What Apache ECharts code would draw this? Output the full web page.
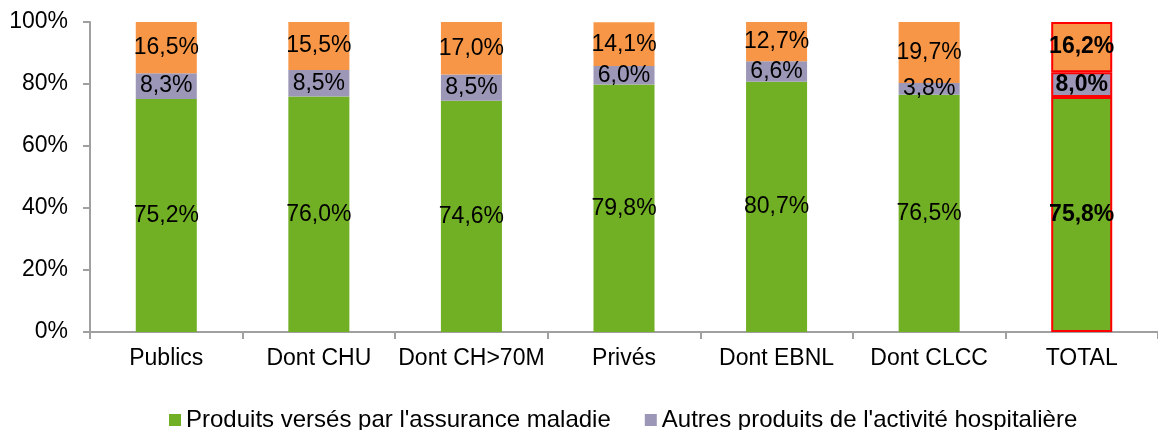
<!DOCTYPE html>
<html>
<head>
<meta charset="utf-8">
<title>Produits</title>
<script src="https://cdn.jsdelivr.net/npm/echarts@6/dist/echarts.min.js"></script>
<style>
    html, body { margin: 0; padding: 0; background: #fff; }
    #chart { width: 1158px; height: 430px; }
</style>
</head>
<body>
<div id="chart"></div>
<script>
    var categories = ['Publics', 'Dont CHU', 'Dont CH>70M', 'Privés', 'Dont EBNL', 'Dont CLCC', 'TOTAL'];
    var assurance = [75.2, 76.0, 74.6, 79.8, 80.7, 76.5, 75.8];
    var autres = [8.3, 8.5, 8.5, 6.0, 6.6, 3.8, 8.0];
    var annexes = [16.5, 15.5, 17.0, 14.1, 12.7, 19.7, 16.2];
    var yTicks = [0, 20, 40, 60, 80, 100];

    var colors = ['#71AF25', '#9C97B6', '#F79646'];
    var fontFam = '"Liberation Sans", Arial, sans-serif';
    var fs = 23;

    //TOTAL gets a red outline and bold labels
    function toItems(values) {
        return values.map(function (v, i) {
            if (categories[i] === 'TOTAL') {
                return {
                    value: v,
                    itemStyle: { borderColor: '#FF0000', borderWidth: 2 },
                    label: { fontWeight: 'bold' }
                };
            }
            return v;
        });
    }

    function fmt(v) {
        return v.toFixed(1).replace('.', ',') + '%';
    }

    function makeSeries(name, values, color) {
        return {
            name: name,
            type: 'bar',
            stack: 'total',
            barWidth: '40%',
            data: toItems(values),
            itemStyle: { color: color },
            label: {
                show: true,
                position: 'inside',
                color: '#000',
                fontSize: fs,
                fontFamily: fontFam,
                formatter: function (p) { return fmt(p.value); }
            }
        };
    }

    var chart = echarts.init(document.getElementById('chart'));
    chart.setOption({
        animation: false,
        textStyle: { fontFamily: fontFam },
        grid: { left: 90, top: 22, bottom: 98, width: 1077 },
        legend: {
            data: ['Produits versés par l\'assurance maladie', 'Autres produits de l\'activité hospitalière'],
            top: 403,
            left: 164,
            icon: 'rect',
            itemWidth: 12,
            itemHeight: 12,
            itemGap: 34,
            textStyle: { fontSize: 24, color: '#000', fontFamily: fontFam }
        },
        xAxis: {
            type: 'category',
            data: categories,
            axisLine: { lineStyle: { color: '#A0A0A0', width: 2 } },
            axisTick: { show: true, length: 7, lineStyle: { color: '#A0A0A0', width: 2 } },
            axisLabel: { color: '#000', fontSize: fs, margin: 15, interval: 0, fontFamily: fontFam }
        },
        yAxis: {
            type: 'value',
            min: yTicks[0],
            max: yTicks[yTicks.length - 1],
            interval: yTicks[1] - yTicks[0],
            axisLine: { show: true, lineStyle: { color: '#A0A0A0', width: 2 } },
            axisTick: { show: true, length: 7, lineStyle: { color: '#A0A0A0', width: 2 } },
            splitLine: { show: false },
            axisLabel: {
                color: '#000',
                fontSize: fs,
                margin: 22,
                fontFamily: fontFam,
                formatter: function (v) { return v + '%'; }
            }
        },
        series: [
            makeSeries('Produits versés par l\'assurance maladie', assurance, colors[0]),
            makeSeries('Autres produits de l\'activité hospitalière', autres, colors[1]),
            makeSeries('Produits annexes', annexes, colors[2])
        ]
    });
</script>
</body>
</html>
